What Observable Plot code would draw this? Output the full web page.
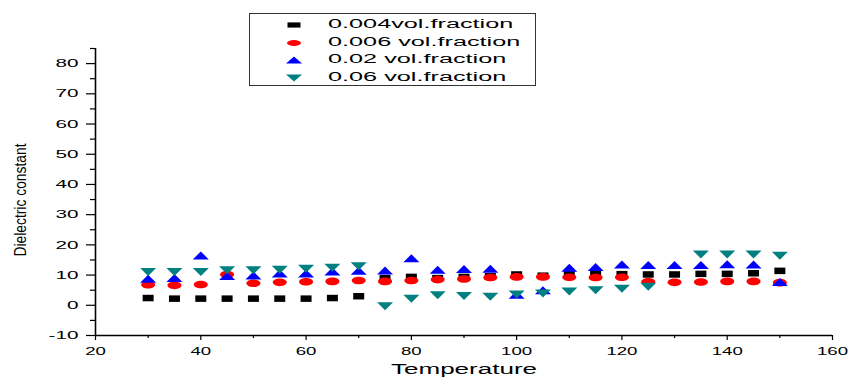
<!DOCTYPE html>
<html>
<head>
<meta charset="utf-8">
<script src="https://cdn.jsdelivr.net/npm/d3@7"></script>
<script src="https://cdn.jsdelivr.net/npm/@observablehq/plot@0.6"></script>
<style>
  body { margin: 0; background: #fff; }
  #wrap { position: relative; width: 848px; height: 378px; overflow: hidden; }
  .legend { position: absolute; left: 249px; top: 13px; width: 287px; height: 73px;
            border: 1px solid #333; box-sizing: border-box; background: #fff; }
  .legend .row { position: absolute; left: 0; width: 100%; height: 18px; }
  .legend svg { position: absolute; left: 34px; top: 0; }
  .legend span { position: absolute; left: 78px; top: 1px; line-height: 16px;
                 font: 12.5px "Liberation Sans", Arial, sans-serif; color: #000;
                 transform: scaleX(2.02); transform-origin: 0 50%; white-space: nowrap; }
</style>
</head>
<body>
<div id="wrap"></div>
<script>
// ---- data ----
const temps = [30,35,40,45,50,55,60,65,70,75,80,85,90,95,100,105,110,115,120,125,130,135,140,145,150];
const vf004 = [2.4,2.2,2.2,2.2,2.2,2.2,2.2,2.4,3.0,9.0,9.4,9.0,9.4,9.6,10.2,9.8,10.5,10.3,10.3,10.2,10.2,10.4,10.4,10.6,11.4];
const vf006 = [6.8,6.6,6.9,10.2,7.3,7.6,7.8,7.9,8.2,7.9,8.2,8.5,8.7,9.2,9.4,9.4,9.3,9.2,9.3,7.8,7.6,7.7,7.9,7.9,7.5];
const vf02  = [8.8,9.0,16.5,9.7,9.9,10.5,10.5,11.2,11.4,11.5,15.6,11.8,12.0,12.1,3.5,5.0,12.4,12.7,13.5,13.3,13.3,13.3,13.6,13.5,7.7];
const vf06  = [11.0,11.0,11.0,11.6,11.6,11.8,12.1,12.4,12.9,-0.3,2.2,3.3,3.1,2.8,3.6,3.9,4.6,5.0,5.5,6.1,null,16.8,16.8,16.8,16.4];
const seriesNames  = ["0.004vol.fraction", "0.006 vol.fraction", "0.02 vol.fraction", "0.06 vol.fraction"];
const seriesColors = ["#000000", "#ff0000", "#0000ff", "#008080"];
const xTicks = [20,40,60,80,100,120,140,160];
const xMinor = [30,50,70,90,110,130,150];
const yTicks = [-10,0,10,20,30,40,50,60,70,80];
const yMinor = [-5,5,15,25,35,45,55,65,75,85];
const xLabel = "Temperature";
const yLabel = "Dielectric constant";

// ---- marker shapes ----
function rectSym(w, h) { return {draw(c) { c.moveTo(-w/2,-h/2); c.lineTo(w/2,-h/2); c.lineTo(w/2,h/2); c.lineTo(-w/2,h/2); c.closePath(); }}; }
function ellSym(rx, ry) { const k = 0.5523; return {draw(c) {
  c.moveTo(rx,0); c.bezierCurveTo(rx,ry*k,rx*k,ry,0,ry); c.bezierCurveTo(-rx*k,ry,-rx,ry*k,-rx,0);
  c.bezierCurveTo(-rx,-ry*k,-rx*k,-ry,0,-ry); c.bezierCurveTo(rx*k,-ry,rx,-ry*k,rx,0); c.closePath(); }}; }
function triSym(w, h, up) { const s = up ? 1 : -1; return {draw(c) {
  c.moveTo(0,-s*h/2); c.lineTo(w/2,s*h/2); c.lineTo(-w/2,s*h/2); c.closePath(); }}; }
const symbols = [rectSym(11,6.5), ellSym(7,3.8), triSym(16,8,true), triSym(16,8,false)];

const rows = vals => temps.map((t,i) => ({t, v: vals[i]})).filter(d => d.v != null);
const allSeries = [vf004, vf006, vf02, vf06];

const font = '"Liberation Sans", Arial, sans-serif';
const svg = Plot.plot({
  width: 848, height: 378,
  marginLeft: 95, marginRight: 16, marginTop: 48, marginBottom: 43,
  x: {domain: [20, 160]},
  y: {domain: [-10, 85]},
  style: {fontFamily: font, background: "white", color: "black", overflow: "visible"},
  marks: [
    Plot.axisY(yTicks, {tickSize: 9, tickPadding: 8, fontSize: 11.5, label: null, tickFormat: d => String(d), strokeWidth: 1.2}),
    Plot.axisY(yMinor, {tickSize: 5, tickPadding: 0, label: null, tickFormat: () => "", strokeWidth: 1.2}),
    Plot.axisX(xTicks, {tickSize: 5, tickPadding: 6, fontSize: 11.5, label: null, tickFormat: d => String(d), strokeWidth: 1.2}),
    Plot.axisX(xMinor, {tickSize: 3, tickPadding: 0, label: null, tickFormat: () => "", strokeWidth: 1.2}),
    Plot.ruleX([20], {stroke: "black", strokeWidth: 1.6}),
    Plot.ruleY([-10], {stroke: "black", strokeWidth: 1.6}),
    Plot.text([xLabel], {frameAnchor: "bottom", dy: 34, fontSize: 15.5, lineAnchor: "middle", textAnchor: "middle", fill: "black"}),
    Plot.text([yLabel], {frameAnchor: "left", rotate: -90, dx: -75, dy: 8, fontSize: 16.5, lineAnchor: "middle", textAnchor: "middle", fill: "black"}),
    ...allSeries.map((vals, i) => Plot.dot(rows(vals), {x: "t", y: "v", r: 3, symbol: symbols[i], fill: seriesColors[i], stroke: "none"}))
  ]
});

// stretch texts horizontally (the reference's lettering is widened)
const yTickText = new Set(yTicks.map(String));
const xTickText = new Set(xTicks.map(String));
svg.querySelectorAll("text").forEach(t => {
  const s = t.textContent;
  const anchorAttr = (t.closest("g") && t.closest("g").getAttribute("text-anchor")) || t.getAttribute("text-anchor") || "";
  let sx = null;
  if (s === xLabel) sx = 1.68;
  else if (s === yLabel) sx = 0.84;
  else if (yTickText.has(s) && anchorAttr === "end") sx = 1.8;
  else if (xTickText.has(s)) sx = 1.62;
  if (sx != null) {
    const tr = t.getAttribute("transform") || "";
    t.setAttribute("transform", `${tr} scale(${sx},1)`);
  }
});

const wrap = document.getElementById("wrap");
wrap.appendChild(svg);

// ---- legend ----
const legend = d3.select(wrap).append("div").attr("class", "legend");
const legendShapes = [
  "M-6.5,-2.6H6.5V2.6H-6.5Z",
  null,
  "M0,-3.5L8,3.5L-8,3.5Z",
  "M0,3.5L8,-3.5L-8,-3.5Z"
];
seriesNames.forEach((name, i) => {
  const row = legend.append("div").attr("class", "row").style("top", (2 + i * 17.6) + "px");
  const s = row.append("svg").attr("width", 20).attr("height", 18);
  const g = s.append("g").attr("transform", "translate(10,9)");
  if (i === 1) g.append("ellipse").attr("rx", 7).attr("ry", 3).attr("fill", seriesColors[i]);
  else g.append("path").attr("d", legendShapes[i]).attr("fill", seriesColors[i]);
  row.append("span").text(name);
});
</script>
</body>
</html>
